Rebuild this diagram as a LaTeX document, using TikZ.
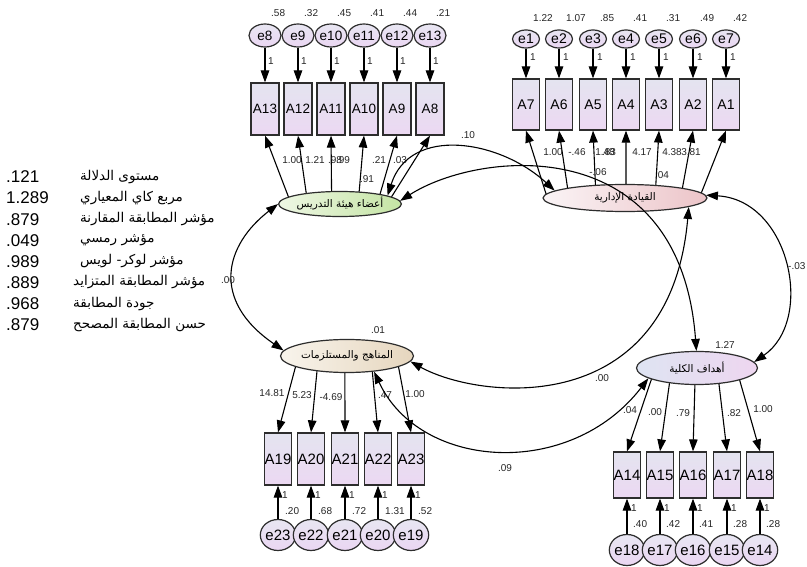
\documentclass[tikz,border=0pt]{standalone}
\usepackage{fontspec}
\setmainfont{Liberation Sans}
\newfontfamily\arabicfont[Script=Arabic]{DejaVu Sans}
\TeXXeTstate=1
\usetikzlibrary{shapes.geometric,arrows.meta}

\definecolor{boxtop}{RGB}{228,228,240}
\definecolor{boxbot}{RGB}{236,216,242}
\definecolor{errtop}{RGB}{232,230,242}
\definecolor{errbot}{RGB}{234,214,242}
\definecolor{edgegray}{RGB}{45,45,45}
\definecolor{staffL}{RGB}{238,247,228}
\definecolor{staffR}{RGB}{196,228,164}
\definecolor{leadL}{RGB}{250,244,246}
\definecolor{leadR}{RGB}{236,196,200}
\definecolor{currL}{RGB}{248,244,236}
\definecolor{currR}{RGB}{230,214,190}
\definecolor{goalL}{RGB}{222,228,242}
\definecolor{goalR}{RGB}{238,214,240}

\newcommand{\artext}[1]{{\arabicfont\beginR #1\endR}}

\tikzset{
  obs/.style={rectangle, draw=edgegray, line width=1.2pt, top color=boxtop, bottom color=boxbot, inner sep=0pt},
  err/.style={ellipse, draw=edgegray, line width=1.2pt, top color=errtop, bottom color=errbot, inner sep=0pt},
  lat/.style={ellipse, draw=edgegray, line width=1.2pt, inner sep=0pt, font=\arabicfont\fontsize{10.5}{10.5}\selectfont},
  onearrow/.style={-{Triangle[length=12pt,width=8.5pt]}, line width=1.1pt},
  twoarrow/.style={{Triangle[length=12pt,width=8.5pt]}-{Triangle[length=12pt,width=8.5pt]}, line width=1.1pt},
  est/.style={font=\fontsize{10}{10}\selectfont, inner sep=0pt, text=black!85},
  legnum/.style={font=\fontsize{17}{17}\selectfont, inner sep=0pt, anchor=west},
  legtxt/.style={font=\arabicfont\fontsize{13.5}{13.5}\selectfont, inner sep=0pt, anchor=west}
}

\begin{document}
\begin{tikzpicture}[x=1pt,y=-1pt]
\useasboundingbox (0,0) rectangle (807,567);
\fill[white] (0,0) rectangle (807,567);

% ---- latent factors
\node[lat, minimum width=110pt, minimum height=25pt, left color=staffL, right color=staffR] (L1) at (340,204) {\artext{أعضاء هيئة التدريس}};
\node[lat, minimum width=164pt, minimum height=27pt, left color=leadL, right color=leadR] (L2) at (625,198) {\artext{القيادة الإدارية}};
\node[lat, minimum width=133pt, minimum height=33pt, left color=currL, right color=currR] (L3) at (347,356) {\artext{المناهج والمستلزمات}};
\node[lat, minimum width=121pt, minimum height=33pt, left color=goalL, right color=goalR] (L4) at (697,368) {\artext{أهداف الكلية}};

% ---- indicators of the teaching-staff factor
\foreach \b/\e/\x/\v in {13/8/265/.58, 12/9/298/.32, 11/10/331/.45, 10/11/364/.41, 9/12/397/.44, 8/13/430/.21} {
  \node[obs, minimum width=28pt, minimum height=52pt, font=\fontsize{13.5}{14}\selectfont] (A\b) at (\x,109) {A\b};
  \node[err, minimum width=32pt, minimum height=23pt, font=\fontsize{13.5}{14}\selectfont] (e\e) at (\x,35.5) {e\e};
  \node[est, anchor=west] (ve\e) at (\x+6,13) {\v};
  \draw[onearrow] (e\e) -- (A\b);
  \node[est, anchor=west] (one\e) at (\x+3,61) {1};
}

% ---- indicators of the leadership factor
\foreach \b/\e/\x/\v in {7/1/526/1.22, 6/2/559/1.07, 5/3/593/.85, 4/4/626/.41, 3/5/659/.31, 2/6/693/.49, 1/7/726/.42} {
  \node[obs, minimum width=27pt, minimum height=51pt, font=\fontsize{14}{14}\selectfont] (A\b) at (\x,104.5) {A\b};
  \node[err, minimum width=27pt, minimum height=18pt, font=\fontsize{14}{14}\selectfont] (e\e) at (\x,39) {e\e};
  \node[est, anchor=west] (ve\e) at (\x+7,18) {\v};
  \draw[onearrow] (e\e) -- (A\b);
  \node[est, anchor=west] (one\e) at (\x+4,57) {1};
}

% ---- indicators of the curricula factor
\foreach \b/\e/\x/\v in {19/23/278/.20, 20/22/311/.68, 21/21/345/.72, 22/20/378/1.31, 23/19/411/.52} {
  \node[obs, minimum width=27pt, minimum height=52pt, font=\fontsize{15}{15}\selectfont] (A\b) at (\x,459) {A\b};
  \node[err, minimum width=30pt, minimum height=31pt, font=\fontsize{15}{15}\selectfont] (e\e) at (\x,535) {e\e};
  \node[est, anchor=west] (ve\e) at (\x+7,511) {\v};
  \draw[onearrow] (e\e) -- (A\b);
  \node[est, anchor=west] (one\e) at (\x+4,495) {1};
}

% ---- indicators of the goals factor
\foreach \b/\e/\x/\v in {14/18/627/.40, 15/17/660/.42, 16/16/693/.41, 17/15/727/.28, 18/14/760/.28} {
  \node[obs, minimum width=27pt, minimum height=46pt, font=\fontsize{15}{15}\selectfont] (A\b) at (\x,475) {A\b};
  \node[err, minimum width=27pt, minimum height=31pt, font=\fontsize{15}{15}\selectfont] (e\e) at (\x,550) {e\e};
  \node[est, anchor=west] (ve\e) at (\x+6,524) {\v};
  \draw[onearrow] (e\e) -- (A\b);
  \node[est, anchor=west] (one\e) at (\x+4,508) {1};
}

% ---- loadings
\foreach \a/\b in {172/13, 162/12, 123/11, 33/10, 14/9, 8/8}
  \draw[onearrow] (L1.\a) -- (A\b.south);
\foreach \a/\b in {177/7, 170/6, 156/5, 86/4, 23/3, 10/2, 4/1}
  \draw[onearrow] (L2.\a) -- (A\b.south);
\foreach \a/\b in {192/19, 207/20, 263/21, 328/22, 348/23}
  \draw[onearrow] (L3.\a) -- (A\b.north);
\foreach \a/\b in {194/14, 209/15, 263/16, 324/17, 344/18}
  \draw[onearrow] (L4.\a) -- (A\b.north);

% loading estimates
\node[est] (k13) at (292,160) {1.00};
\node[est] (k12) at (315,160) {1.21};
\node[est] (k11) at (335,160) {.98};
\node[est] (k10) at (343,160) {.99};
\node[est] (k9)  at (379,160) {.21};
\node[est] (k8)  at (400,160) {.03};
\node[est] (k7)  at (553,152) {1.00};
\node[est] (k6)  at (577,152) {-.46};
\node[est] (k5)  at (605,152) {1.48};
\node[est] (k4)  at (609,152) {.83};
\node[est] (k3)  at (642,152) {4.17};
\node[est] (k2)  at (672,152) {4.38};
\node[est] (k1)  at (691,152) {3.81};
\node[est] (k19) at (272,393) {14.81};
\node[est] (k20) at (302,395) {5.23};
\node[est] (k21) at (331,397) {-4.69};
\node[est] (k22) at (385,395) {.47};
\node[est] (k23) at (415,394) {1.00};
\node[est] (k14) at (630,410) {.04};
\node[est] (k15) at (655,412) {.00};
\node[est] (k16) at (683,413) {.79};
\node[est] (k17) at (734,413) {.82};
\node[est] (k18) at (763,409) {1.00};

% factor variances
\node[est] (vL1) at (367,179) {.91};
\node[est] (vL2) at (662,175) {.04};
\node[est] (vL3) at (378,330) {.01};
\node[est] (vL4) at (725,345) {1.27};

% ---- covariances between factors
\draw[twoarrow] (L1.10) .. controls (410,125) and (500,140) .. (L2.174);
\draw[twoarrow] (L1.3) .. controls (480,150) and (680,130) .. (L4.92);
\draw[twoarrow] (L1.180) .. controls (225,245) and (210,300) .. (L3.175);
\draw[twoarrow] (L3.355) .. controls (480,400) and (670,420) .. (L2.352);
\draw[twoarrow] (L3.330) .. controls (420,470) and (570,480) .. (L4.192);
\draw[twoarrow] (L2.2) .. controls (790,200) and (815,320) .. (L4.6);

\node[est] (c12) at (468,135) {.10};
\node[est] (c14) at (598,172) {-.06};
\node[est] (c13) at (228,280) {.00};
\node[est] (c32) at (602,378) {.00};
\node[est] (c34) at (505,468) {.09};
\node[est, anchor=west] (c24) at (788,266) {-.03};

% ---- fit indices (the three longer lines start a little further left)
\foreach \i/\num/\tx/\txt in {0/.121/80/مستوى الدلالة, 1/1.289/80/مربع كاي المعياري, 2/.879/80/مؤشر المطابقة المقارنة, 3/.049/80/مؤشر رمسي, 4/.989/80/مؤشر لوكر- لويس, 5/.889/73/مؤشر المطابقة المتزايد, 6/.968/73/جودة المطابقة, 7/.879/73/حسن المطابقة المصحح} {
  \node[legnum] (fn\i) at (6,177+21.1*\i) {\num};
  \node[legtxt] (ft\i) at (\tx,177+21.1*\i) {\artext{\txt}};
}
\end{tikzpicture}
\end{document}
